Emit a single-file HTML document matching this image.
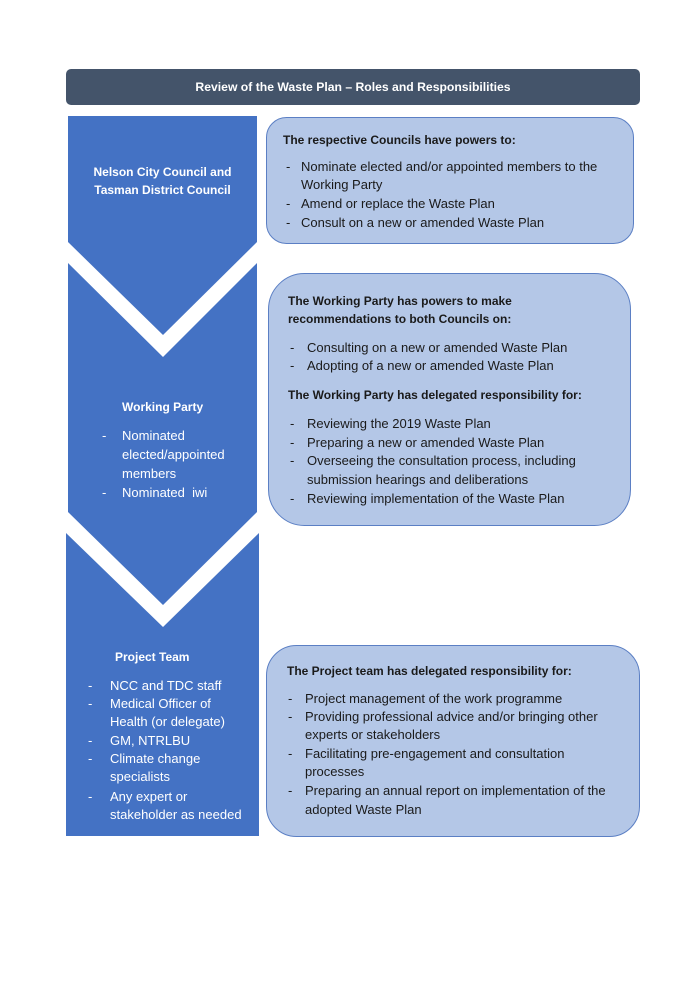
<!DOCTYPE html>
<html><head><meta charset="utf-8"><style>
body{margin:0;width:689px;height:1004px;background:#fff;position:relative;font-family:"Liberation Sans",sans-serif;overflow:hidden}
.t{position:absolute;white-space:nowrap;line-height:18px;font-size:13px;color:#1a1a1a}
.w{color:#fff}
.b{font-weight:bold;font-size:12px}
</style></head><body>
<svg width="689" height="1004" style="position:absolute;left:0;top:0">
<rect x="66" y="69" width="574" height="36" rx="5" fill="#44546A"/>
<polygon points="68,116 257,116 257,242 163,335 68,242" fill="#4472C4"/>
<polygon points="68,263 163,357 257,263 257,512 163,605 68,512" fill="#4472C4"/>
<polygon points="66,533 163,627 259,533 259,836 66,836" fill="#4472C4"/>
<rect x="266.5" y="117.5" width="367" height="126" rx="20" fill="#B4C7E7" stroke="#5B7FC4" stroke-width="1"/>
<rect x="268.5" y="273.5" width="362" height="252" rx="36" fill="#B4C7E7" stroke="#5B7FC4" stroke-width="1"/>
<rect x="266.5" y="645.5" width="373" height="191" rx="30" fill="#B4C7E7" stroke="#5B7FC4" stroke-width="1"/>
</svg>
<div class="t w b" style="left:66px;width:574px;text-align:center;top:78px;font-size:12.2px">Review of the Waste Plan – Roles and Responsibilities</div>

<div class="t w b" style="left:68px;width:189px;text-align:center;top:163px">Nelson City Council and<br>Tasman District Council</div>

<div class="t w b" style="left:122px;top:398px">Working Party</div>
<div class="t w" style="left:102px;top:427px">-</div><div class="t w" style="left:122px;top:427px">Nominated</div>
<div class="t w" style="left:122px;top:446px">elected/appointed</div>
<div class="t w" style="left:122px;top:465px">members</div>
<div class="t w" style="left:102px;top:484px">-</div><div class="t w" style="left:122px;top:484px">Nominated&nbsp; iwi</div>

<div class="t w b" style="left:115px;top:648px">Project Team</div>
<div class="t w" style="left:88px;top:677px">-</div><div class="t w" style="left:110px;top:677px">NCC and TDC staff</div>
<div class="t w" style="left:88px;top:695px">-</div><div class="t w" style="left:110px;top:695px">Medical Officer of</div>
<div class="t w" style="left:110px;top:713px">Health (or delegate)</div>
<div class="t w" style="left:88px;top:732px">-</div><div class="t w" style="left:110px;top:732px">GM, NTRLBU</div>
<div class="t w" style="left:88px;top:750px">-</div><div class="t w" style="left:110px;top:750px">Climate change</div>
<div class="t w" style="left:110px;top:768px">specialists</div>
<div class="t w" style="left:88px;top:788px">-</div><div class="t w" style="left:110px;top:788px">Any expert or</div>
<div class="t w" style="left:110px;top:806px">stakeholder as needed</div>

<div class="t b" style="left:283px;top:131px">The respective Councils have powers to:</div>
<div class="t" style="left:286px;top:158px">-</div><div class="t" style="left:301px;top:158px">Nominate elected and/or appointed members to the</div>
<div class="t" style="left:301px;top:176px">Working Party</div>
<div class="t" style="left:286px;top:195px">-</div><div class="t" style="left:301px;top:195px">Amend or replace the Waste Plan</div>
<div class="t" style="left:286px;top:214px">-</div><div class="t" style="left:301px;top:214px">Consult on a new or amended Waste Plan</div>

<div class="t b" style="left:288px;top:292px">The Working Party has powers to make<br>recommendations to both Councils on:</div>
<div class="t" style="left:290px;top:339px">-</div><div class="t" style="left:307px;top:339px">Consulting on a new or amended Waste Plan</div>
<div class="t" style="left:290px;top:357px">-</div><div class="t" style="left:307px;top:357px">Adopting of a new or amended Waste Plan</div>
<div class="t b" style="left:288px;top:386px">The Working Party has delegated responsibility for:</div>
<div class="t" style="left:290px;top:415px">-</div><div class="t" style="left:307px;top:415px">Reviewing the 2019 Waste Plan</div>
<div class="t" style="left:290px;top:434px">-</div><div class="t" style="left:307px;top:434px">Preparing a new or amended Waste Plan</div>
<div class="t" style="left:290px;top:452px">-</div><div class="t" style="left:307px;top:452px">Overseeing the consultation process, including</div>
<div class="t" style="left:307px;top:471px">submission hearings and deliberations</div>
<div class="t" style="left:290px;top:490px">-</div><div class="t" style="left:307px;top:490px">Reviewing implementation of the Waste Plan</div>

<div class="t b" style="left:287px;top:662px">The Project team has delegated responsibility for:</div>
<div class="t" style="left:288px;top:690px">-</div><div class="t" style="left:305px;top:690px">Project management of the work programme</div>
<div class="t" style="left:288px;top:708px">-</div><div class="t" style="left:305px;top:708px">Providing professional advice and/or bringing other</div>
<div class="t" style="left:305px;top:726px">experts or stakeholders</div>
<div class="t" style="left:288px;top:745px">-</div><div class="t" style="left:305px;top:745px">Facilitating pre-engagement and consultation</div>
<div class="t" style="left:305px;top:763px">processes</div>
<div class="t" style="left:288px;top:782px">-</div><div class="t" style="left:305px;top:782px">Preparing an annual report on implementation of the</div>
<div class="t" style="left:305px;top:801px">adopted Waste Plan</div>
</body></html>
